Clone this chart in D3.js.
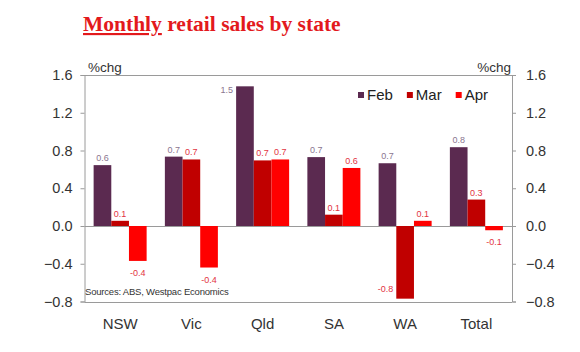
<!DOCTYPE html>
<html>
<head>
<meta charset="utf-8">
<script src="https://cdn.jsdelivr.net/npm/d3@7"></script>
<style>
	body { margin: 0; background: #fff; }
	text { font-family: 'Liberation Sans', Arial, sans-serif; }
</style>
</head>
<body>
<div id="chart"></div>
<script>
// data
const states = [ 'NSW', 'Vic', 'Qld', 'SA', 'WA', 'Total' ];
const months = [ 'Feb', 'Mar', 'Apr' ];
const feb = [ 0.645, 0.735, 1.48, 0.73, 0.665, 0.835 ];
const mar = [ 0.055, 0.705, 0.695, 0.12, -0.77, 0.28 ];
const apr = [ -0.37, -0.44, 0.705, 0.615, 0.055, -0.045 ];
const febLabels = [ '0.6', '0.7', '1.5', '0.7', '0.7', '0.8' ];
const marLabels = [ '0.1', '0.7', '0.7', '0.1', '-0.8', '0.3' ];
const aprLabels = [ '-0.4', '-0.4', '0.7', '0.6', '0.1', '-0.1' ];
const yTicks = [ -0.8, -0.4, 0, 0.4, 0.8, 1.2, 1.6 ];

const colors = { Feb: '#5b2a50', Mar: '#c00000', Apr: '#ff0000' };
const labelColors = { Feb: '#8a7690', Mar: '#e2343f', Apr: '#e2343f' };

let dimensions = {
	width  : 580,
	height : 352,
	margin : {
		top    : 75,
		right  : 68,
		bottom : 50.5,
		left   : 84.5
	}
};
dimensions.boundedWidth = dimensions.width - dimensions.margin.left - dimensions.margin.right;
dimensions.boundedHeight = dimensions.height - dimensions.margin.top - dimensions.margin.bottom;

const svg = d3.select('#chart').append('svg').attr('width', dimensions.width).attr('height', dimensions.height);

// title
const title = svg
	.append('text')
	.attr('x', 83)
	.attr('y', 31)
	.style('font-family', "'Liberation Serif', 'Times New Roman', serif")
	.style('font-weight', 'bold')
	.style('font-size', '21.5px')
	.attr('fill', '#e3191c');
title.append('tspan').style('text-decoration', 'underline').text('Monthly');
title.append('tspan').text(' retail sales by state');

const bounds = svg.append('g').attr('transform', `translate(${dimensions.margin.left}, ${dimensions.margin.top})`);

const y = d3.scaleLinear().domain([ -0.8, 1.6 ]).range([ dimensions.boundedHeight, 0 ]);
const x0 = d3.scaleBand().domain(states).range([ 0, dimensions.boundedWidth ]).paddingInner(0.256).paddingOuter(0.128);
const x1 = d3.scaleBand().domain(months).range([ 0, x0.bandwidth() ]);

// frame lines top and bottom, plus zero line
bounds
	.selectAll('.frame')
	.data([ 1.6, -0.8, 0 ])
	.enter()
	.append('line')
	.attr('x1', 0)
	.attr('x2', dimensions.boundedWidth)
	.attr('y1', (d) => Math.round(y(d)) + 0.5)
	.attr('y2', (d) => Math.round(y(d)) + 0.5)
	.attr('stroke', '#9a9a9a')
	.attr('stroke-width', 1);

// bars
const series = [
	{ key: 'Feb', values: feb, labels: febLabels },
	{ key: 'Mar', values: mar, labels: marLabels },
	{ key: 'Apr', values: apr, labels: aprLabels }
];
const barData = [];
series.forEach(function(s) {
	states.forEach(function(st, i) {
		barData.push({ state: st, month: s.key, value: s.values[i], label: s.labels[i] });
	});
});

bounds
	.selectAll('rect.bar')
	.data(barData)
	.enter()
	.append('rect')
	.attr('class', 'bar')
	.attr('x', (d) => x0(d.state) + x1(d.month))
	.attr('width', x1.bandwidth())
	.attr('y', (d) => y(Math.max(0, d.value)))
	.attr('height', (d) => Math.abs(y(d.value) - y(0)))
	.attr('fill', (d) => colors[d.month]);

// data labels
bounds
	.selectAll('text.lbl')
	.data(barData)
	.enter()
	.append('text')
	.attr('class', 'lbl')
	.style('font-size', '9px')
	.attr('fill', (d) => labelColors[d.month])
	.each(function(d) {
		const t = d3.select(this);
		const end = y(d.value);
		const bx = x0(d.state) + x1(d.month);
		if (d.value > 0 && end - 14 < 0) {
			t.attr('x', bx - 3).attr('y', end + 7).attr('text-anchor', 'end');
		} else if (d.value < 0 && end + 15 > dimensions.boundedHeight) {
			t.attr('x', bx - 3).attr('y', end - 7).attr('text-anchor', 'end');
		} else if (d.value >= 0) {
			t.attr('x', bx + x1.bandwidth() / 2).attr('y', end - 4).attr('text-anchor', 'middle');
		} else {
			t.attr('x', bx + x1.bandwidth() / 2).attr('y', end + 15).attr('text-anchor', 'middle');
		}
	})
	.text((d) => d.label);

// axes
const fmt = d3.format('.1f');
const leftAxis = d3.axisLeft(y).tickValues(yTicks).tickFormat(fmt).tickSize(4).tickPadding(8);
const rightAxis = d3.axisRight(y).tickValues(yTicks).tickFormat(fmt).tickSize(4).tickPadding(10);

const gl = bounds.append('g').attr('class', 'y axis').call(leftAxis);
const gr = bounds.append('g').attr('class', 'y axis').attr('transform', `translate(${dimensions.boundedWidth}, 0)`).call(rightAxis);

[ gl, gr ].forEach(function(g) {
	g.selectAll('path, line').attr('stroke', '#9a9a9a');
	g.selectAll('text').attr('fill', '#333').style('font-size', '14.5px').style('font-family', "'Liberation Sans', Arial, sans-serif");
});

const xAxis = d3.axisBottom(x0).tickSize(0).tickPadding(17);
const gx = bounds.append('g').attr('transform', `translate(0, ${dimensions.boundedHeight})`).call(xAxis);
gx.select('.domain').remove();
gx.selectAll('text').attr('fill', '#333').style('font-size', '15px').style('font-family', "'Liberation Sans', Arial, sans-serif");

// unit labels
svg.append('text').attr('x', 88).attr('y', 72).style('font-size', '13.5px').attr('fill', '#333').text('%chg');
svg
	.append('text')
	.attr('x', 511)
	.attr('y', 72)
	.attr('text-anchor', 'end')
	.style('font-size', '13.5px')
	.attr('fill', '#333')
	.text('%chg');

// legend
const legend = svg.append('g').attr('transform', 'translate(358, 95)');
let lx = 0;
months.forEach(function(m) {
	legend.append('rect').attr('x', lx).attr('y', -3).attr('width', 6).attr('height', 6).attr('fill', colors[m]);
	const t = legend
		.append('text')
		.attr('x', lx + 9)
		.attr('y', 5)
		.style('font-size', '15px')
		.attr('fill', '#222')
		.text(m);
	lx += 9 + t.node().getComputedTextLength() + 14;
});

// source
svg
	.append('text')
	.attr('x', 85)
	.attr('y', 295)
	.style('font-size', '9.5px')
	.style('letter-spacing', '-0.2px')
	.attr('fill', '#333')
	.text('Sources: ABS, Westpac Economics');
</script>
</body>
</html>
